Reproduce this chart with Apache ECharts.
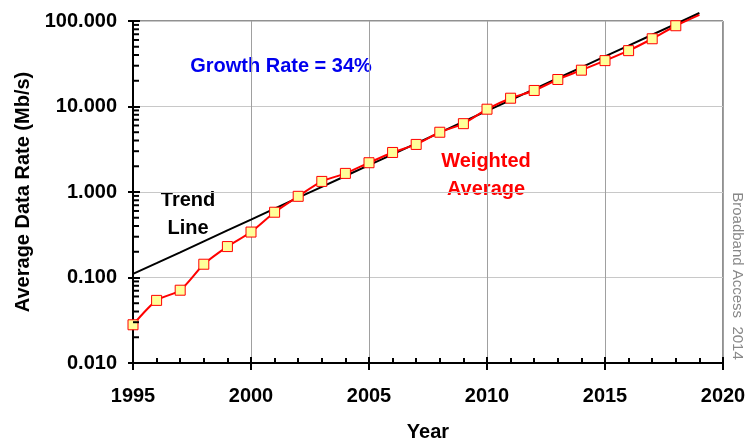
<!DOCTYPE html>
<html>
<head>
<meta charset="utf-8">
<script src="https://cdn.jsdelivr.net/npm/echarts@6/dist/echarts.min.js"></script>
<style>
  html, body { margin: 0; padding: 0; background: #fff; }
  #chart { width: 746px; height: 442px; }
</style>
</head>
<body>
<div id="chart"></div>
<script>
// values
var years = [1995, 1996, 1997, 1998, 1999, 2000, 2001, 2002, 2003, 2004, 2005, 2006,
  2007, 2008, 2009, 2010, 2011, 2012, 2013, 2014, 2015, 2016, 2017, 2018, 2019]
var weightedAvg = [0.028, 0.054, 0.071, 0.143, 0.23, 0.34, 0.58, 0.89, 1.33, 1.65, 2.2, 2.9,
  3.6, 5.0, 6.3, 9.3, 12.5, 15.4, 20.7, 26.6, 34.4, 45, 62, 88, 118]
var trendLine = [0.11, 0.147, 0.197, 0.265, 0.355, 0.475, 0.64, 0.86, 1.15, 1.54, 2.06, 2.76,
  3.7, 4.96, 6.65, 8.9, 11.9, 16.0, 21.4, 28.7, 38.5, 51.5, 69, 92.5, 124]
var yMinorTicks = [0.02, 0.03, 0.04, 0.05, 0.06, 0.07, 0.08, 0.09,
  0.2, 0.3, 0.4, 0.5, 0.6, 0.7, 0.8, 0.9,
  2, 3, 4, 5, 6, 7, 8, 9,
  20, 30, 40, 50, 60, 70, 80, 90]

var FONT = '"Liberation Sans", Arial, sans-serif'
var gridBox = { left: 133, right: 23, top: 21, bottom: 79, outerBoundsMode: 'none' }

var chart = echarts.init(document.getElementById('chart'))

chart.setOption({
  backgroundColor: '#fff',
  animation: false,
  grid: [
    Object.assign({ show: true, borderColor: '#222', borderWidth: 1 }, gridBox),
    Object.assign({ show: false }, gridBox)
  ],
  xAxis: [{
    type: 'value',
    gridIndex: 0,
    min: 1995,
    max: 2020,
    interval: 5,
    name: 'Year',
    nameLocation: 'middle',
    nameGap: 59,
    nameTextStyle: { fontFamily: FONT, fontWeight: 'bold', fontSize: 20, color: '#000' },
    axisLine: { lineStyle: { color: '#000', width: 2 } },
    axisTick: { show: true, length: 7, lineStyle: { color: '#000', width: 2 } },
    axisLabel: {
      margin: 23, fontFamily: FONT, fontWeight: 'bold', fontSize: 20, color: '#000',
      formatter: function (v) { return String(v) }
    },
    splitLine: { show: true, lineStyle: { color: '#a0a0a0', width: 1 } }
  }, {
    // inside ticks, yearly minor ticks
    type: 'value',
    gridIndex: 1,
    min: 1995,
    max: 2020,
    interval: 5,
    axisLine: { show: false },
    axisTick: { show: true, inside: true, length: 6, lineStyle: { color: '#000', width: 2 } },
    minorTick: { show: true, splitNumber: 5, length: 5, lineStyle: { color: '#000', width: 2 } },
    axisLabel: { show: false },
    splitLine: { show: false }
  }],
  yAxis: [{
    type: 'log',
    gridIndex: 0,
    logBase: 10,
    min: 0.01,
    max: 100,
    name: 'Average Data Rate (Mb/s)',
    nameLocation: 'middle',
    nameRotate: 90,
    nameGap: 100,
    nameTextStyle: { fontFamily: FONT, fontWeight: 'bold', fontSize: 20, color: '#000' },
    axisLine: { lineStyle: { color: '#000', width: 2 } },
    axisTick: { show: true, length: 5, lineStyle: { color: '#000', width: 2 } },
    axisLabel: {
      margin: 16, fontFamily: FONT, fontWeight: 'bold', fontSize: 20, color: '#000',
      formatter: function (v) { return v.toFixed(3) }
    },
    splitLine: { show: true, lineStyle: { color: '#c8c8c8', width: 1 } }
  }, {
    type: 'log',
    gridIndex: 1,
    logBase: 10,
    min: 0.01,
    max: 100,
    axisLine: { show: false },
    axisTick: { show: true, inside: true, length: 7, lineStyle: { color: '#000', width: 2 } },
    axisLabel: { show: false },
    splitLine: { show: false }
  }],
  series: [{
    // log-spaced minor ticks on the y axis
    type: 'custom',
    xAxisIndex: 0,
    yAxisIndex: 0,
    silent: true,
    z: 5,
    data: yMinorTicks.map(function (v) { return [1995, v] }),
    renderItem: function (params, api) {
      var p = api.coord([api.value(0), api.value(1)])
      return {
        type: 'line',
        shape: { x1: p[0], y1: p[1], x2: p[0] + 6, y2: p[1] },
        style: { stroke: '#000', lineWidth: 2 }
      }
    }
  }, {
    name: 'Trend Line',
    type: 'line',
    data: years.map(function (y, i) { return [y, trendLine[i]] }),
    showSymbol: false,
    clip: false,
    lineStyle: { color: '#000', width: 2 },
    z: 3
  }, {
    name: 'Weighted Average',
    type: 'line',
    data: years.map(function (y, i) {
      var item = { value: [y, weightedAvg[i]] }
      if (y > 2018) item.symbol = 'none'
      return item
    }),
    smooth: 0.25,
    clip: false,
    symbol: 'rect',
    symbolSize: 10,
    itemStyle: { color: '#ffff99', borderColor: '#ff0000', borderWidth: 1 },
    lineStyle: { color: '#ff0000', width: 2 },
    z: 4
  }],
  graphic: [{
    type: 'text', x: 281, y: 66,
    style: { text: 'Growth Rate = 34%', fill: '#0000ee', font: 'bold 20px ' + FONT, align: 'center', verticalAlign: 'middle' }
  }, {
    type: 'text', x: 188, y: 214,
    style: { text: 'Trend\nLine', fill: '#000', font: 'bold 20px ' + FONT, lineHeight: 28, align: 'center', verticalAlign: 'middle' }
  }, {
    type: 'text', x: 486, y: 175,
    style: { text: 'Weighted\nAverage', fill: '#ff0000', font: 'bold 20px ' + FONT, lineHeight: 28, align: 'center', verticalAlign: 'middle' }
  }, {
    type: 'text', x: 737, y: 276, rotation: -Math.PI / 2,
    style: { text: 'Broadband Access  2014', fill: '#888', font: '15px ' + FONT, align: 'center', verticalAlign: 'middle' }
  }]
})
</script>
</body>
</html>
